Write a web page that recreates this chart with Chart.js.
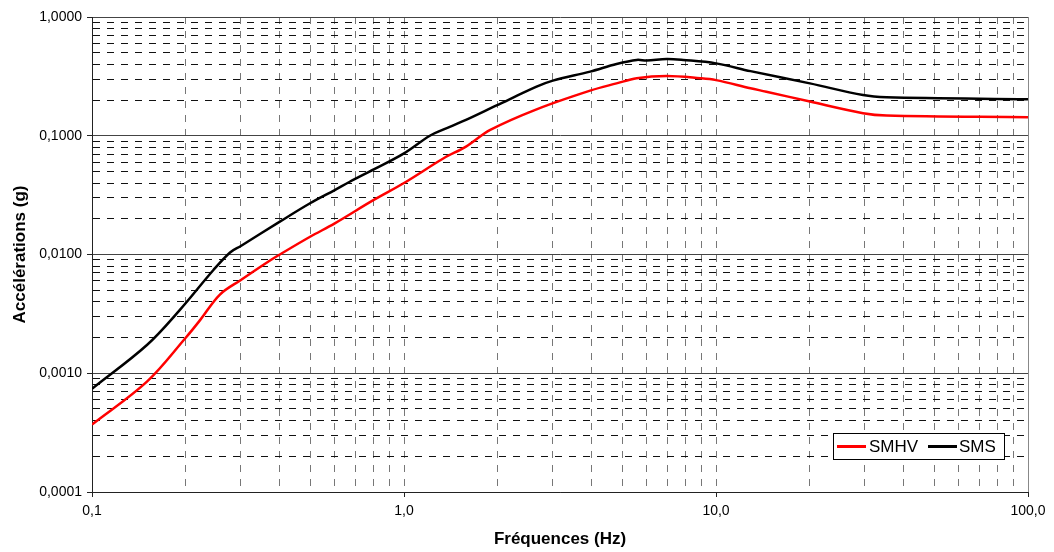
<!DOCTYPE html>
<html>
<head>
<meta charset="utf-8">
<script src="https://cdn.jsdelivr.net/npm/chart.js@4/dist/chart.umd.min.js"></script>
<style>
  html, body { margin: 0; padding: 0; background: #fff; }
  canvas { display: block; }
</style>
</head>
<body>
<canvas id="spectre" width="1054" height="552"></canvas>
<script>
// valeurs
var freqSMHV = [0.1, 0.15, 0.2, 0.222, 0.257, 0.3, 0.372, 0.4, 0.5, 0.6, 0.8, 1.0, 1.34, 1.58, 1.89, 2.66, 3.95, 4.8, 5.57, 6.95, 8.9, 10, 12.9, 14.5, 20, 29.6, 35.2, 100];
var accSMHV = [0.00037, 0.00085, 0.002, 0.0028, 0.0046, 0.0061, 0.0089, 0.01, 0.0141, 0.0183, 0.0288, 0.040, 0.0646, 0.081, 0.112, 0.167, 0.24, 0.276, 0.305, 0.318, 0.305, 0.294, 0.251, 0.235, 0.194, 0.155, 0.148, 0.143];

var freqSMS = [0.1, 0.15, 0.191, 0.245, 0.277, 0.3, 0.4, 0.5, 0.6, 0.67, 0.8, 1.0, 1.21, 1.34, 1.58, 1.98, 2.66, 3.0, 3.95, 4.8, 5.57, 6.0, 6.95, 7.85, 10, 12.9, 20, 29.6, 35.2, 100];
var accSMS = [0.00074, 0.00173, 0.0034, 0.0074, 0.0104, 0.0118, 0.0189, 0.027, 0.0349, 0.041, 0.052, 0.071, 0.1, 0.113, 0.136, 0.18, 0.259, 0.291, 0.347, 0.402, 0.435, 0.43, 0.443, 0.435, 0.407, 0.35, 0.276, 0.22, 0.211, 0.203];

var xMajor = [0.1, 1, 10, 100];
var xTickLabels = ["0,1", "1,0", "10,0", "100,0"];
var yMajor = [0.0001, 0.001, 0.01, 0.1, 1];
var yTickLabels = ["0,0001", "0,0010", "0,0100", "0,1000", "1,0000"];

var police = "'Liberation Sans', Arial, sans-serif";

function points(xs, ys) {
  return xs.map(function (x, i) { return { x: x, y: ys[i] }; });
}

// graduations 1..9 de chaque decade
function logTicks(min, max) {
  var t = [];
  for (var e = Math.round(Math.log10(min)); e < Math.round(Math.log10(max)); e++) {
    for (var m = 1; m < 10; m++) t.push(Number((m * Math.pow(10, e)).toPrecision(10)));
  }
  t.push(max);
  return t;
}

function isMajor(list, v) {
  return list.some(function (m) { return Math.abs(m - v) / m < 1e-9; });
}

function labelFor(list, labels, v) {
  for (var i = 0; i < list.length; i++) {
    if (Math.abs(list[i] - v) / list[i] < 1e-9) return labels[i];
  }
  return "";
}

var legendeBox = {
  id: "legendeBox",
  afterDraw: function (chart) {
    var ctx = chart.ctx, a = chart.chartArea;
    var x = a.right - 195, y = a.bottom - 59, w = 171, h = 26;
    ctx.save();
    ctx.fillStyle = "#fff";
    ctx.fillRect(x, y, w, h);
    ctx.strokeStyle = "#000";
    ctx.lineWidth = 1;
    ctx.strokeRect(x + 0.5, y + 0.5, w, h);
    var cy = y + h / 2 + 0.5;
    ctx.font = "17px " + police;
    ctx.textBaseline = "middle";
    ctx.lineWidth = 3;
    ctx.strokeStyle = "#ff0000";
    ctx.beginPath(); ctx.moveTo(x + 4, cy); ctx.lineTo(x + 33, cy); ctx.stroke();
    ctx.fillStyle = "#000";
    ctx.fillText("SMHV", x + 36, cy + 1);
    ctx.strokeStyle = "#000";
    ctx.beginPath(); ctx.moveTo(x + 95, cy); ctx.lineTo(x + 124, cy); ctx.stroke();
    ctx.fillText("SMS", x + 126, cy + 1);
    ctx.restore();
  }
};

new Chart(document.getElementById("spectre").getContext("2d"), {
  type: "line",
  data: {
    datasets: [{
      label: "SMHV",
      data: points(freqSMHV, accSMHV),
      borderColor: "#ff0000",
      borderWidth: 2.5,
      pointRadius: 0,
      tension: 0.35,
      fill: false
    }, {
      label: "SMS",
      data: points(freqSMS, accSMS),
      borderColor: "#000000",
      borderWidth: 2.5,
      pointRadius: 0,
      tension: 0.35,
      fill: false
    }]
  },
  options: {
    responsive: false,
    animation: false,
    devicePixelRatio: 1,
    layout: { padding: { top: 17, right: 26, left: 0, bottom: 0 } },
    plugins: { legend: { display: false }, tooltip: { enabled: false } },
    scales: {
      x: {
        type: "logarithmic",
        min: 0.1,
        max: 100,
        afterFit: function (s) { s.height = 60; },
        afterBuildTicks: function (s) {
          s.ticks = logTicks(0.1, 100).map(function (v) { return { value: v }; });
        },
        ticks: {
          autoSkip: false,
          maxRotation: 0,
          padding: 6,
          color: "#000",
          font: { family: police, size: 14 },
          callback: function (v) { return labelFor(xMajor, xTickLabels, v); }
        },
        grid: {
          color: function (c) { return c.tick && c.tick.value === 100 ? "#888" : "#777"; },
          lineWidth: 1,
          tickLength: 5,
          tickColor: function (c) { return c.tick && isMajor(xMajor, c.tick.value) ? "#222" : "rgba(0,0,0,0)"; },
          tickBorderDash: []
        },
        border: {
          color: "#222",
          width: 1,
          dash: function (c) {
            if (!c.tick || c.tick.value === 100 || c.tick.value === 0.1) return [];
            return [7, 7];
          }
        },
        title: {
          display: true,
          text: "Fréquences (Hz)",
          color: "#000",
          padding: { top: 0, bottom: 2 },
          font: { family: police, size: 17, weight: "bold" }
        }
      },
      y: {
        type: "logarithmic",
        min: 0.0001,
        max: 1,
        afterFit: function (s) { s.width = 92; },
        afterBuildTicks: function (s) {
          s.ticks = logTicks(0.0001, 1).map(function (v) { return { value: v }; });
        },
        ticks: {
          autoSkip: false,
          padding: 5,
          color: "#000",
          font: { family: police, size: 14 },
          callback: function (v) { return labelFor(yMajor, yTickLabels, v); }
        },
        grid: {
          color: function (c) { return c.tick && isMajor(yMajor, c.tick.value) ? "#444" : "#111"; },
          lineWidth: 1,
          tickLength: 5,
          tickColor: function (c) { return c.tick && isMajor(yMajor, c.tick.value) ? "#222" : "rgba(0,0,0,0)"; },
          tickBorderDash: []
        },
        border: {
          color: "#222",
          width: 1,
          dash: function (c) {
            if (!c.tick || isMajor(yMajor, c.tick.value)) return [];
            return [7, 7];
          }
        },
        title: {
          display: true,
          text: "Accélérations (g)",
          color: "#000",
          padding: { top: 10, bottom: 0 },
          font: { family: police, size: 17, weight: "bold" }
        }
      }
    }
  },
  plugins: [legendeBox]
});
</script>
</body>
</html>
